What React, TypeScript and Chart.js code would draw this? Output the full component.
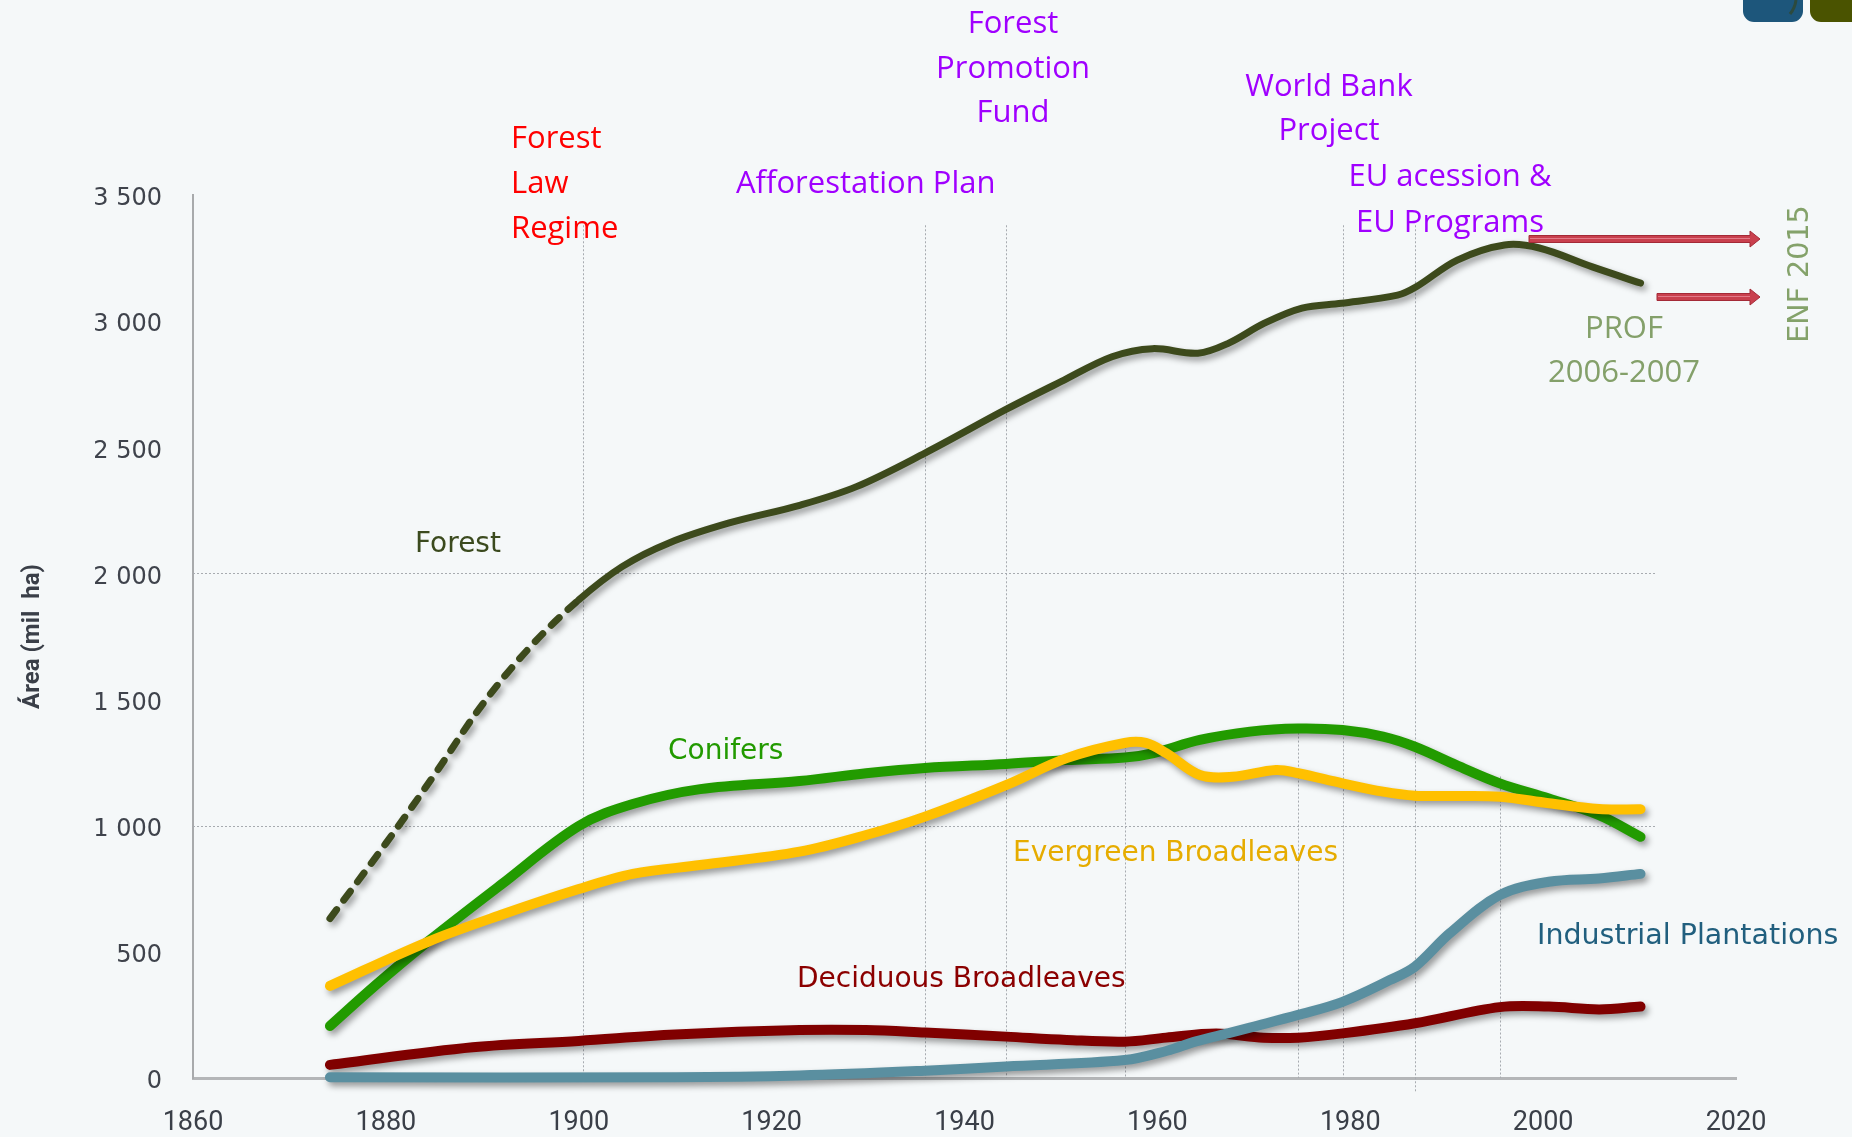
import React, { useEffect, useRef } from 'react';
import { Chart, registerables } from 'chart.js';

Chart.register(...registerables);

// ---------- data ----------
const forestYears = [1874.2, 1880, 1885, 1890, 1895, 1900, 1904.5, 1909.3, 1915.6, 1923, 1928.8, 1935.9, 1944.3, 1950, 1955.3, 1959.5, 1964.2, 1967.4, 1971.1, 1975, 1979.1, 1984.9, 1986.8, 1991.1, 1996, 1999.6, 2005.1, 2010.1];
const forestValues = [632, 930, 1200, 1480, 1710, 1895, 2027, 2120, 2200, 2271, 2344, 2477, 2650, 2760, 2859, 2891, 2873, 2913, 2992, 3052, 3071, 3103, 3135, 3242, 3302, 3290, 3215, 3151];
const forestDashedUntil = 1900;

const coniferYears = [1874.2, 1879, 1884.3, 1891.9, 1900, 1905.6, 1912.6, 1922.9, 1929.8, 1935.9, 1944.3, 1950.6, 1956.6, 1959.6, 1964.4, 1969.6, 1974.6, 1979.2, 1983.4, 1986.7, 1991, 1995.5, 2000.6, 2005.8, 2010.1];
const coniferValues = [206, 370, 539, 765, 999, 1086, 1145, 1177, 1208, 1229, 1245, 1260, 1270, 1288, 1340, 1373, 1385, 1379, 1353, 1313, 1240, 1168, 1108, 1042, 956];

const evergreenYears = [1874.2, 1884.3, 1891.9, 1900, 1905.6, 1912.6, 1922.9, 1929.8, 1935.9, 1944.3, 1950.6, 1956.6, 1958.8, 1960.9, 1964.4, 1967.8, 1972.3, 1974.6, 1979.2, 1983.4, 1986.7, 1991, 1995.5, 2000.6, 2005.8, 2010.1];
const evergreenValues = [365, 539, 646, 749, 809, 844, 897, 963, 1036, 1161, 1268, 1328, 1328, 1288, 1201, 1194, 1221, 1208, 1168, 1135, 1119, 1118, 1115, 1089, 1066, 1065];

const deciduousYears = [1874.2, 1889, 1900, 1910, 1922.9, 1929.8, 1935.9, 1944.3, 1950.6, 1956.6, 1960.9, 1966.1, 1971, 1974.6, 1979.2, 1986.7, 1995.5, 2000.6, 2005.8, 2010.1];
const deciduousValues = [52, 122, 147, 172, 190, 190, 180, 164, 151, 144, 160, 176, 160, 160, 177, 217, 281, 283, 272, 283];

const industrialYears = [1874.2, 1910, 1922.9, 1935.9, 1944.3, 1956.6, 1961, 1964, 1967.4, 1969.6, 1974.6, 1979.2, 1984.1, 1986.7, 1990.3, 1995.5, 2000.6, 2005.8, 2010.1];
const industrialValues = [3, 3, 10, 29, 46, 71, 108, 145, 178, 200, 250, 302, 388, 441, 573, 725, 778, 791, 809];

const xTickLabels = ['1860', '1880', '1900', '1920', '1940', '1960', '1980', '2000', '2020'];
const yTickLabels = ['0', '500', '1 000', '1 500', '2 000', '2 500', '3 000', '3 500'];

const gridValues = [1000, 2000];
const gridEndYear = 2011.7;
const eventYears = [1900.4, 1935.9, 1944.3, 1979.2, 1986.7];
const eventTop = 3380;
const eventBottoms = [0, 0, 0, 0, -55];
const dropYears = [1956.6, 1974.6, 1995.5];
const dropTops = [1330, 1385, 1195];

// ---------- annotations (pixel layout) ----------
const eventFont = '31px "Open Sans"';
const labelFont = '28px "DejaVu Sans"';
const notes = [
  { lines: ['Forest', 'Law', 'Regime'], color: '#ff0000', x: 511, y: 139.5, lh: 45, align: 'left', font: eventFont },
  { lines: ['Afforestation Plan'], color: '#a000ff', x: 736, y: 184.5, lh: 45, align: 'left', font: eventFont },
  { lines: ['Forest', 'Promotion', 'Fund'], color: '#a000ff', x: 1013, y: 24.5, lh: 44.3, align: 'center', font: eventFont },
  { lines: ['World Bank', 'Project'], color: '#a000ff', x: 1329, y: 87.5, lh: 43.7, align: 'center', font: eventFont },
  { lines: ['EU acession &', 'EU Programs'], color: '#a000ff', x: 1450, y: 177.5, lh: 46, align: 'center', font: eventFont },
  { lines: ['PROF', '2006-2007'], color: '#84a06a', x: 1624, y: 329.5, lh: 44, align: 'center', font: eventFont },
  { lines: ['Forest'], color: '#3b4a1e', x: 415, y: 544.5, lh: 30, align: 'left', font: labelFont },
  { lines: ['Conifers'], color: '#229a00', x: 668, y: 751.5, lh: 30, align: 'left', font: labelFont },
  { lines: ['Evergreen Broadleaves'], color: '#e6ac00', x: 1013, y: 853.5, lh: 30, align: 'left', font: labelFont },
  { lines: ['Deciduous Broadleaves'], color: '#8b0000', x: 797, y: 979.5, lh: 30, align: 'left', font: labelFont },
  { lines: ['Industrial Plantations'], color: '#215f7e', x: 1537, y: 936.5, lh: 30, align: 'left', font: '28.5px "DejaVu Sans"' },
];
const arrows = [
  { x1: 1529, x2: 1760, y: 239 },
  { x1: 1657, x2: 1760, y: 297 },
];

const toPoints = (xs: number[], ys: number[]) => xs.map((x, i) => ({ x, y: ys[i] }));

const shadowPlugin = {
  id: 'lineShadow',
  beforeDatasetDraw(chart: any) {
    const ctx = chart.ctx;
    ctx.save();
    ctx.shadowColor = 'rgba(0,0,0,0.38)';
    ctx.shadowBlur = 6;
    ctx.shadowOffsetX = 3;
    ctx.shadowOffsetY = 4;
  },
  afterDatasetDraw(chart: any) {
    chart.ctx.restore();
  },
};

const decorPlugin = {
  id: 'decor',
  beforeDatasetsDraw(chart: any) {
    const { ctx } = chart;
    const xs = chart.scales.x;
    const ys = chart.scales.y;
    ctx.save();
    ctx.strokeStyle = '#a7abb0';
    ctx.lineWidth = 1;
    ctx.setLineDash([2, 2]);
    gridValues.forEach((v) => {
      const py = Math.round(ys.getPixelForValue(v)) + 0.5;
      ctx.beginPath();
      ctx.moveTo(xs.getPixelForValue(1860), py);
      ctx.lineTo(xs.getPixelForValue(gridEndYear), py);
      ctx.stroke();
    });
    eventYears.forEach((yr, i) => {
      const px = Math.round(xs.getPixelForValue(yr)) + 0.5;
      ctx.beginPath();
      ctx.moveTo(px, ys.getPixelForValue(eventTop));
      ctx.lineTo(px, ys.getPixelForValue(eventBottoms[i]));
      ctx.stroke();
    });
    dropYears.forEach((yr, i) => {
      const px = Math.round(xs.getPixelForValue(yr)) + 0.5;
      ctx.beginPath();
      ctx.moveTo(px, ys.getPixelForValue(dropTops[i]));
      ctx.lineTo(px, ys.getPixelForValue(0));
      ctx.stroke();
    });
    ctx.restore();
  },
  afterDraw(chart: any) {
    const { ctx } = chart;
    ctx.save();
    ctx.textBaseline = 'middle';
    notes.forEach((n) => {
      ctx.font = n.font;
      ctx.fillStyle = n.color;
      ctx.textAlign = n.align as CanvasTextAlign;
      n.lines.forEach((t, i) => ctx.fillText(t, n.x, n.y + i * n.lh));
    });
    // ENF 2015 rotated
    ctx.save();
    ctx.translate(1801, 274);
    ctx.rotate(-Math.PI / 2);
    ctx.font = '28.5px "DejaVu Sans"';
    ctx.fillStyle = '#84a26a';
    ctx.textAlign = 'center';
    ctx.fillText('ENF 2015', 0, 0);
    ctx.restore();
    // arrows
    arrows.forEach((a) => {
      const h = 3.5;
      const headLen = 10;
      const headH = 8;
      ctx.beginPath();
      ctx.moveTo(a.x1, a.y - h);
      ctx.lineTo(a.x2 - headLen, a.y - h);
      ctx.lineTo(a.x2 - headLen, a.y - headH);
      ctx.lineTo(a.x2, a.y);
      ctx.lineTo(a.x2 - headLen, a.y + headH);
      ctx.lineTo(a.x2 - headLen, a.y + h);
      ctx.lineTo(a.x1, a.y + h);
      ctx.closePath();
      ctx.fillStyle = '#c9404e';
      ctx.fill();
      ctx.strokeStyle = '#a42a37';
      ctx.lineWidth = 1;
      ctx.stroke();
      ctx.beginPath();
      ctx.moveTo(a.x1 + 1, a.y - 0.5);
      ctx.lineTo(a.x2 - headLen, a.y - 0.5);
      ctx.strokeStyle = '#e27a88';
      ctx.stroke();
    });
    // corner logo boxes
    const rr = (x: number, y: number, w: number, hh: number, r: number, c: string) => {
      ctx.beginPath();
      ctx.roundRect(x, y, w, hh, r);
      ctx.fillStyle = c;
      ctx.fill();
    };
    rr(1743, -20, 60, 42, 11, '#1d567b');
    rr(1810, -20, 70, 42, 11, '#4a5300');
    ctx.strokeStyle = '#2c4a3e';
    ctx.lineWidth = 3;
    ctx.beginPath();
    ctx.moveTo(1796, 0);
    ctx.quadraticCurveTo(1795, 8, 1790, 14);
    ctx.stroke();
    ctx.restore();
  },
};

export default function App() {
  const ref = useRef<HTMLCanvasElement | null>(null);

  useEffect(() => {
    if (!ref.current) return;
    const common = {
      pointRadius: 0,
      pointHoverRadius: 0,
      fill: false,
      borderCapStyle: 'round',
      borderJoinStyle: 'round',
      tension: 0.35,
      clip: false,
    };
    const chart = new Chart(ref.current, {
      type: 'line',
      data: {
        datasets: [
          {
            ...common,
            label: 'Forest',
            data: toPoints(forestYears, forestValues),
            borderColor: '#3d4a1c',
            borderWidth: 7,
            segment: {
              borderDash: (c: any) => (c.p1.parsed.x <= forestDashedUntil ? [11, 12] : undefined),
            },
          },
          {
            ...common,
            label: 'Evergreen Broadleaves',
            data: toPoints(evergreenYears, evergreenValues),
            borderColor: '#ffc000',
            borderWidth: 10,
          },
          {
            ...common,
            label: 'Conifers',
            data: toPoints(coniferYears, coniferValues),
            borderColor: '#229b00',
            borderWidth: 10,
          },
          {
            ...common,
            label: 'Industrial Plantations',
            data: toPoints(industrialYears, industrialValues),
            borderColor: '#5a8fa0',
            borderWidth: 10,
          },
          {
            ...common,
            label: 'Deciduous Broadleaves',
            data: toPoints(deciduousYears, deciduousValues),
            borderColor: '#800000',
            borderWidth: 10,
          },
        ] as any,
      },
      options: {
        responsive: false,
        animation: false,
        events: [],
        layout: { padding: { left: 8, right: 116, top: 195, bottom: 0 } },
        plugins: {
          legend: { display: false },
          tooltip: { enabled: false },
        },
        scales: {
          x: {
            type: 'linear',
            min: 1860,
            max: 2020,
            afterFit: (s: any) => {
              s.height = 59;
            },
            grid: { display: false, drawTicks: false },
            border: { display: true, color: '#b4b6b8', width: 3 },
            ticks: {
              stepSize: 20,
              autoSkip: false,
              maxRotation: 0,
              padding: 29,
              color: '#3a3f48',
              font: { family: 'Roboto', size: 27 },
              callback: (_v: any, i: number) => xTickLabels[i],
            },
          },
          y: {
            type: 'linear',
            min: 0,
            max: 3500,
            afterFit: (s: any) => {
              s.width = 185;
            },
            grid: { display: false, drawTicks: false },
            border: { display: true, color: '#a8aaac', width: 2 },
            ticks: {
              stepSize: 500,
              padding: 31,
              labelOffset: 4,
              color: '#3f434c',
              font: { family: 'DejaVu Sans', size: 24 },
              callback: (_v: any, i: number) => yTickLabels[i],
            },
            title: {
              display: true,
              text: 'Área (mil  ha)',
              color: '#3a3f48',
              font: { family: 'Roboto', size: 24, weight: 'bold' },
              padding: { top: 11, bottom: 0 },
            },
          },
        },
      } as any,
      plugins: [decorPlugin, shadowPlugin],
    });
    return () => chart.destroy();
  }, []);

  return (
    <div
      style={{
        position: 'absolute',
        left: 0,
        top: 0,
        width: 1852,
        height: 1137,
        background: '#f5f8f9',
        overflow: 'hidden',
      }}
    >
      <canvas ref={ref} width={1852} height={1137} style={{ width: 1852, height: 1137, display: 'block' }} />
    </div>
  );
}
